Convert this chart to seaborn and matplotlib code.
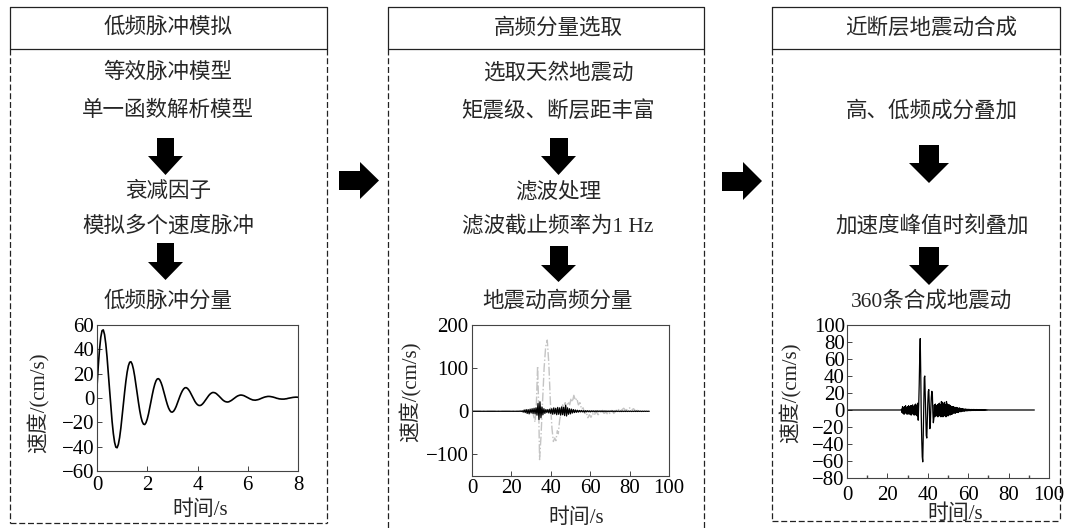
import numpy as np
import matplotlib
matplotlib.use("Agg")
import matplotlib.pyplot as plt
from matplotlib.patches import Polygon
import seaborn as sns

# ---------------- data ----------------
# low-frequency pulse velocity (cm/s), sampled every 0.05 s from 0 to 8 s
pulse_vel = [
    9.2, 26.1, 40.0, 49.9, 55.3, 56.0, 52.2, 44.5, 33.7, 20.7, 6.9,
    -6.7, -19.1, -29.2, -36.4, -40.4, -40.9, -38.1, -32.5, -24.6, -15.2, -5.0,
    4.9, 13.9, 21.3, 26.5, 29.4, 29.8, 27.8, 23.7, 17.9, 11.0, 3.7,
    -3.6, -10.2, -15.6, -19.4, -21.5, -21.8, -20.3, -17.3, -13.1, -8.1, -2.7,
    2.6, 7.4, 11.3, 14.2, 15.7, 15.9, 14.8, 12.6, 9.6, 5.9, 2.0,
    -1.9, -5.4, -8.3, -10.3, -11.5, -11.6, -10.8, -9.2, -7.0, -4.3, -1.4,
    1.4, 3.9, 6.0, 7.5, 8.4, 8.5, 7.9, 6.7, 5.1, 3.1, 1.0,
    -1.0, -2.9, -4.4, -5.5, -6.1, -6.2, -5.8, -4.9, -3.7, -2.3, -0.8,
    0.7, 2.1, 3.2, 4.0, 4.5, 4.5, 4.2, 3.6, 2.7, 1.7, 0.6,
    -0.5, -1.5, -2.3, -2.9, -3.2, -3.3, -3.1, -2.6, -2.0, -1.2, -0.4,
    0.4, 1.1, 1.7, 2.1, 2.4, 2.4, 2.2, 1.9, 1.4, 0.9, 0.3,
    -0.3, -0.8, -1.2, -1.6, -1.7, -1.8, -1.6, -1.4, -1.1, -0.6, -0.2,
    0.2, 0.6, 0.9, 1.1, 1.3, 1.3, 1.2, 1.0, 0.8, 0.5, 0.2,
    -0.2, -0.4, -0.7, -0.8, -0.9, -0.9, -0.9, -0.7, -0.6, -0.3, -0.1,
    0.1, 0.3, 0.5, 0.6, 0.7, 0.7, 0.6,
]
pulse_time = np.linspace(0.0, 8.0, len(pulse_vel))

# high-frequency component (cm/s), every 0.5 s from 0 to 90 s
hf_vel = [0.0] * 48 + [
    0, 0.5, -0.5, 1, -2, 3, -3, 4, -5, 4, -6, 5, -4, 6, -5, 7, -6, 8, -9, 18,
    -19, 22, -15, 10, -8, 6, -5, 4, -3, 4, -4, 5, -5, 6, -7, 8, -6, 7, -8, 9,
    -7, 8, -9, 10, -8, 9, -10, 14, -11, 8, -7, 6, -6, 5, -4, 4, -3, 3, -2.5, 2.5,
    -2,
    2, -1.5, 2, -1.5, 1.5, -2, 1.5, -1.5, 1.5, -1.2,
    1.2, -1.5, 1.2, -1, 1.2, -1.2, 1, -1, 1.2, -1,
    1, -0.8, 1, -1, 0.8, -0.8, 1, -0.8, 0.8, -1,
    0.8, -0.8, 0.8, -0.7, 0.8, -0.8, 0.7, -0.7, 0.8, -0.6,
    0.7, -0.7, 0.6, -0.7, 0.7, -0.6, 0.6, -0.6, 0.7, -0.6,
    0.6, -0.5, 0.6, -0.6, 0.5, -0.5, 0.6, -0.5, 0.5, -0.5,
    0.5, -0.4, 0.5, -0.5, 0.4, -0.4, 0.4, -0.3, 0.3, -0.2,
    0.1, 0,
]
hf_time = np.linspace(0.0, 90.0, len(hf_vel))

# natural record velocity (cm/s)
rec_time = [0, 28, 30, 31, 32, 32.7, 33.3, 33.8, 34.3, 35, 35.8, 36.6, 37.4,
            38.2, 39, 39.8, 40.6, 41.3, 42, 42.6, 43.3, 43.8, 44.5, 45.2, 46,
            46.6, 47.3, 48, 48.8, 49.6, 50.3, 51, 51.7, 52.5, 53.2, 54, 54.8,
            55.6, 56.4, 57.2, 58, 58.8, 59.6, 60.4, 61.2, 62, 63, 64, 65, 66,
            67, 68, 69, 70, 71, 72, 73, 74, 75, 76, 77, 78, 79, 80, 81, 82, 83,
            84, 85]
rec_vel = [0, 0, 2, -5, -25, 20, 105, 20, -112, -60, 20, 100, 150,
           165, 110, 20, -40, -70, -62, -68, -45, -52, -20, -5, 15,
           5, 20, 8, 22, 15, 30, 22, 37, 25, 30, 15, 20,
           5, 8, -5, -2, -15, -8, -14, -5, -10, 0, -8, -3, 4,
           -5, -2, -8, -4, 2, -5, 1, 6, 0, 3, 7, 2, 5, 8, 3, 6, 1,
           2, 0]

# synthesized near-fault motion (cm/s), every 0.25 s from 0 to 92.75 s
syn_vel = [0.0] * 108 + [
    1, -3, 4, -4, 3, -5, 4, -3, 5, -4, 3, -5,
    4, -3, 5, -5, 4, -4, 5, -6, 5, -4, 6, -5,
    4, -6, 6, -5, 7, -6, 5, -7, 8, -12, 6, 30,
    62, 84, 45, -5, -35, -55, -61, -30, 8, 38, 40, 15,
    -12, -30, -33, -10, 8, 22, 24, 5, -22, -18, 2, 15,
    22, 20, -3, -15, -10, 6, -8, 7, -6, 5, -7, 6,
    -8, 7, -6, 8, -7, 6, -8, 10, -7, 9, -8, 7,
    -6, 9, -7, 6, -8, 10, -6, 7, -7, 6, -5, 6,
    -6, 5, -5, 4, -5, 4, -4, 4, -3, 3, -4, 3,
    -3, 3, -2.5, 2.5, -3, 2, -2, 2.5, -2, 1.5, -2, 1.5,
    -1.5, 1.5, -1.2, 1.2, -1.5, 1, -1, 1.2, -1, 0.8, -1, 0.8,
    -0.8, 0.8, -0.7, 0.7, -0.8, 0.6, -0.7, 0.7, -0.6, 0.6,
    -0.6, 0.7, -0.5, 0.6, -0.6, 0.5, -0.5, 0.6, -0.5, 0.5,
    -0.5, 0.4, -0.5, 0.5, -0.4, 0.4, -0.4, 0.5, -0.4, 0.4,
    -0.3, 0.4, -0.3, 0.3, -0.3, 0.3, -0.2, 0.2, -0.2, 0.1,
] + [0.0] * 92
syn_time = np.linspace(0.0, 92.75, len(syn_vel))

# flowchart texts
headers = ["低频脉冲模拟", "高频分量选取", "近断层地震动合成"]
col1_text = ["等效脉冲模型", "单一函数解析模型", "衰减因子", "模拟多个速度脉冲", "低频脉冲分量"]
col2_text = ["选取天然地震动", "矩震级、断层距丰富", "滤波处理", "滤波截止频率为1 Hz", "地震动高频分量"]
col3_text = ["高、低频成分叠加", "加速度峰值时刻叠加", "360条合成地震动"]
ylabel = "速度/(cm/s)"
xlabel = "时间/s"

# ---------------- style ----------------
sns.set_theme(style="ticks")
plt.rcParams["font.family"] = ["Liberation Serif", "Noto Sans CJK SC", "DejaVu Sans"]
plt.rcParams.update({
    "xtick.direction": "in", "ytick.direction": "in",
    "xtick.major.size": 3.5, "ytick.major.size": 3.5,
    "xtick.minor.size": 2, "ytick.minor.size": 2,
    "xtick.major.width": 0.7, "ytick.major.width": 0.7,
    "xtick.color": "#444444", "ytick.color": "#444444",
    "xtick.labelcolor": "black", "ytick.labelcolor": "black",
    "xtick.labelsize": 15, "ytick.labelsize": 15,
    "axes.edgecolor": "#444444", "axes.linewidth": 0.8,
    "lines.scale_dashes": False,
})

W, H = 1069, 528
fig = plt.figure(figsize=(W / 100, H / 100), dpi=100)
fig.patch.set_facecolor("white")

# canvas in pixel coordinates for the flowchart frame
bg = fig.add_axes([0, 0, 1, 1])
bg.set_xlim(0, W)
bg.set_ylim(H, 0)
bg.axis("off")

LW = 0.9
DASH = (4.3, 2.0)


def dashed(xs, ys):
    bg.plot(xs, ys, color="#222222", lw=LW, dashes=DASH, solid_capstyle="butt")


def panel(x0, x1, bottom):
    bg.plot([x0, x1, x1, x0, x0], [7, 7, 49, 49, 7], color="#222222", lw=LW)
    dashed([x0, x0], [49, bottom if bottom else H + 5])
    dashed([x1, x1], [49, bottom if bottom else H + 5])
    if bottom:
        dashed([x0, x1], [bottom, bottom])


panel(10, 327, 523)
panel(388, 704, None)
panel(772, 1060, 521)


def right_arrow(x0, x1, tip, ys0, ys1, yh0, yh1):
    yc = (yh0 + yh1) / 2
    pts = [(x0, ys0), (x1, ys0), (x1, yh0), (tip, yc), (x1, yh1), (x1, ys1), (x0, ys1)]
    bg.add_patch(Polygon(pts, closed=True, color="black", lw=0))


def down_arrow(xs0, xs1, xh0, xh1, y0, y1, tip):
    xc = (xh0 + xh1) / 2
    pts = [(xs0, y0), (xs1, y0), (xs1, y1), (xh1, y1), (xc, tip), (xh0, y1), (xs0, y1)]
    bg.add_patch(Polygon(pts, closed=True, color="black", lw=0))


right_arrow(339, 360, 379, 171, 190, 162, 199)
right_arrow(722, 743, 762, 172, 191, 162, 200)

down_arrow(157, 174, 148, 183, 138, 156, 175)
down_arrow(157, 174, 148, 183, 243, 262, 280)
down_arrow(550, 568, 541, 576, 138, 156, 175)
down_arrow(550, 568, 541, 576, 246, 265, 282)
down_arrow(919, 939, 909, 949, 145, 163, 183)
down_arrow(919, 939, 909, 949, 247, 265, 285)

FS = 15.5
for hx, txt in zip([168, 558, 931], headers):
    bg.text(hx, 28, txt, ha="center", va="center", fontsize=FS)
for y, txt in zip([73, 111, 192, 226, 301], col1_text):
    bg.text(168, y, txt, ha="center", va="center", fontsize=FS)
for y, txt in zip([73, 111, 192, 226, 301], col2_text):
    bg.text(558, y, txt, ha="center", va="center", fontsize=FS)
for y, txt in zip([111, 226, 301], col3_text):
    bg.text(932, y, txt, ha="center", va="center", fontsize=FS)


def px_axes(x0, x1, y0, y1):
    return fig.add_axes([x0 / W, 1 - y1 / H, (x1 - x0) / W, (y1 - y0) / H])


# ---- low-frequency pulse ----
ax1 = px_axes(97, 298, 325, 471)
sns.lineplot(x=pulse_time, y=pulse_vel, ax=ax1, color="black", lw=1.2,
             estimator=None, sort=False)
ax1.set_xlim(0, 8)
ax1.set_ylim(-60, 60)
ax1.set_xticks([0, 2, 4, 6, 8])
ax1.set_yticks([-60, -40, -20, 0, 20, 40, 60])
ax1.tick_params(axis="y", pad=2)
ax1.tick_params(axis="x", pad=3.5)

# ---- high-frequency component ----
ax2 = px_axes(472, 669, 325, 476)
sns.lineplot(x=rec_time, y=rec_vel, ax=ax2, color="#c4c4c4", lw=1.0,
             linestyle="-.", estimator=None, sort=False)
sns.lineplot(x=hf_time, y=hf_vel, ax=ax2, color="black", lw=0.9,
             estimator=None, sort=False)
ax2.set_xlim(0, 100)
ax2.set_ylim(-150, 200)
ax2.set_xticks([0, 20, 40, 60, 80, 100])
ax2.set_yticks([-100, 0, 100, 200])
ax2.tick_params(axis="both", pad=2.5)

# ---- synthesized motion ----
ax3 = px_axes(847, 1049, 325, 478)
sns.lineplot(x=syn_time, y=syn_vel, ax=ax3, color="black", lw=0.9,
             estimator=None, sort=False)
ax3.set_xlim(0, 100)
ax3.set_ylim(-80, 100)
ax3.set_xticks([0, 20, 40, 60, 80, 100])
ax3.set_xticks(np.arange(10, 100, 20), minor=True)
ax3.set_yticks(np.arange(-80, 101, 20))
ax3.tick_params(axis="y", pad=1.5)
ax3.tick_params(axis="x", pad=5.5)

for ax, ylc, xlc in [(ax1, (-0.234, 0.466), (0.512, -0.2)),
                     (ax2, (-0.254, 0.56), (0.53, -0.215)),
                     (ax3, (-0.223, 0.56), (0.535, -0.17))]:
    ax.set_ylabel(ylabel, fontsize=15)
    ax.set_xlabel(xlabel, fontsize=15)
    ax.yaxis.set_label_coords(*ylc)
    ax.xaxis.set_label_coords(*xlc)
    ax.set_facecolor("white")

fig.savefig("out.png", dpi=100)
